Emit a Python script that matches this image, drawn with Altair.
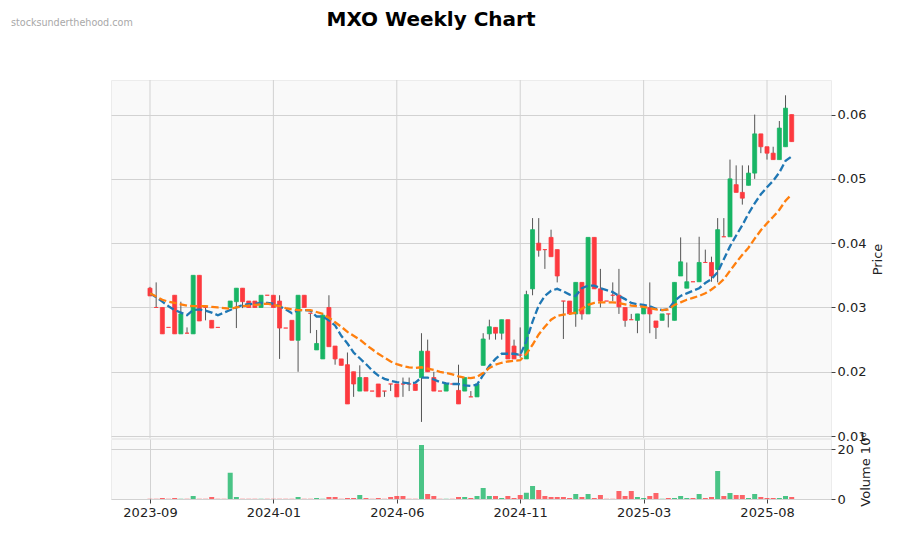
import altair as alt
import pandas as pd

TITLE = "MXO Weekly Chart"
WATERMARK = "stocksunderthehood.com"

opens = [0.0330, 0.0300, 0.0300, 0.0269, 0.0319, 0.0259, 0.0260, 0.0259, 0.0350, 0.0300,
         0.0280, 0.0269, 0.0299, 0.0300, 0.0309, 0.0330, 0.0310, 0.0310, 0.0300, 0.0319,
         0.0319, 0.0310, 0.0268, 0.0280, 0.0249, 0.0319, 0.0291, 0.0234, 0.0220, 0.0300,
         0.0240, 0.0220, 0.0211, 0.0200, 0.0170, 0.0191, 0.0170, 0.0181, 0.0170, 0.0181,
         0.0181, 0.0181, 0.0181, 0.0181, 0.0191, 0.0232, 0.0191, 0.0170, 0.0170, 0.0181,
         0.0171, 0.0170, 0.0161, 0.0161, 0.0210, 0.0259, 0.0269, 0.0260, 0.0281, 0.0240,
         0.0226, 0.0220, 0.0329, 0.0400, 0.0390, 0.0409, 0.0390, 0.0310, 0.0310, 0.0290,
         0.0339, 0.0290, 0.0409, 0.0329, 0.0310, 0.0319, 0.0319, 0.0300, 0.0281, 0.0280,
         0.0290, 0.0300, 0.0279, 0.0280, 0.0290, 0.0280, 0.0349, 0.0330, 0.0340, 0.0340,
         0.0370, 0.0370, 0.0359, 0.0410, 0.0410, 0.0491, 0.0479, 0.0490, 0.0509, 0.0570,
         0.0550, 0.0540, 0.0530, 0.0550, 0.0600]
highs = [0.0332, 0.0339, 0.0300, 0.0269, 0.0319, 0.0309, 0.0269, 0.0350, 0.0350, 0.0301,
         0.0280, 0.0269, 0.0299, 0.0310, 0.0330, 0.0330, 0.0310, 0.0310, 0.0319, 0.0319,
         0.0319, 0.0319, 0.0268, 0.0280, 0.0319, 0.0319, 0.0291, 0.0265, 0.0291, 0.0319,
         0.0240, 0.0220, 0.0230, 0.0200, 0.0210, 0.0191, 0.0170, 0.0181, 0.0170, 0.0181,
         0.0181, 0.0191, 0.0191, 0.0181, 0.0260, 0.0250, 0.0200, 0.0170, 0.0181, 0.0181,
         0.0211, 0.0191, 0.0170, 0.0181, 0.0260, 0.0281, 0.0269, 0.0281, 0.0281, 0.0250,
         0.0269, 0.0326, 0.0439, 0.0439, 0.0390, 0.0421, 0.0390, 0.0310, 0.0310, 0.0339,
         0.0339, 0.0409, 0.0409, 0.0360, 0.0310, 0.0339, 0.0360, 0.0300, 0.0290, 0.0290,
         0.0300, 0.0339, 0.0279, 0.0290, 0.0290, 0.0339, 0.0409, 0.0370, 0.0340, 0.0410,
         0.0390, 0.0379, 0.0439, 0.0439, 0.0530, 0.0521, 0.0521, 0.0521, 0.0600, 0.0570,
         0.0550, 0.0550, 0.0590, 0.0630, 0.0600]
lows = [0.0318, 0.0300, 0.0259, 0.0269, 0.0259, 0.0259, 0.0260, 0.0259, 0.0279, 0.0280,
        0.0268, 0.0269, 0.0299, 0.0300, 0.0268, 0.0299, 0.0300, 0.0300, 0.0300, 0.0319,
        0.0300, 0.0220, 0.0268, 0.0249, 0.0200, 0.0300, 0.0260, 0.0234, 0.0220, 0.0239,
        0.0211, 0.0210, 0.0150, 0.0161, 0.0170, 0.0170, 0.0170, 0.0161, 0.0161, 0.0170,
        0.0161, 0.0161, 0.0170, 0.0171, 0.0122, 0.0200, 0.0170, 0.0170, 0.0170, 0.0181,
        0.0150, 0.0170, 0.0161, 0.0161, 0.0210, 0.0250, 0.0250, 0.0250, 0.0220, 0.0220,
        0.0222, 0.0220, 0.0319, 0.0379, 0.0360, 0.0379, 0.0339, 0.0251, 0.0290, 0.0270,
        0.0281, 0.0290, 0.0329, 0.0300, 0.0310, 0.0310, 0.0290, 0.0270, 0.0281, 0.0260,
        0.0290, 0.0260, 0.0251, 0.0280, 0.0269, 0.0280, 0.0349, 0.0330, 0.0340, 0.0340,
        0.0370, 0.0340, 0.0339, 0.0410, 0.0410, 0.0479, 0.0460, 0.0490, 0.0500, 0.0540,
        0.0530, 0.0530, 0.0530, 0.0550, 0.0558]
closes = [0.0318, 0.0300, 0.0259, 0.0269, 0.0259, 0.0290, 0.0260, 0.0350, 0.0279, 0.0300,
          0.0268, 0.0269, 0.0299, 0.0310, 0.0330, 0.0309, 0.0300, 0.0300, 0.0319, 0.0319,
          0.0300, 0.0268, 0.0268, 0.0249, 0.0319, 0.0300, 0.0291, 0.0244, 0.0288, 0.0239,
          0.0220, 0.0210, 0.0150, 0.0181, 0.0191, 0.0170, 0.0170, 0.0161, 0.0170, 0.0181,
          0.0161, 0.0181, 0.0181, 0.0171, 0.0232, 0.0200, 0.0170, 0.0170, 0.0181, 0.0181,
          0.0150, 0.0191, 0.0161, 0.0181, 0.0251, 0.0270, 0.0260, 0.0281, 0.0220, 0.0220,
          0.0226, 0.0320, 0.0421, 0.0389, 0.0390, 0.0379, 0.0349, 0.0310, 0.0290, 0.0339,
          0.0290, 0.0409, 0.0329, 0.0310, 0.0310, 0.0319, 0.0301, 0.0280, 0.0281, 0.0290,
          0.0300, 0.0290, 0.0269, 0.0290, 0.0290, 0.0339, 0.0371, 0.0340, 0.0340, 0.0370,
          0.0370, 0.0349, 0.0421, 0.0410, 0.0500, 0.0479, 0.0470, 0.0509, 0.0570, 0.0550,
          0.0540, 0.0530, 0.0579, 0.0610, 0.0558]
# weekly volume, millions of shares
volumes = [0.1, 0.1, 0.4, 0.1, 0.4, 0.1, 0.1, 1.2, 0.1, 0.1,
           0.8, 0.1, 0.1, 10.5, 0.8, 0.1, 0.1, 0.1, 0.1, 0.1,
           0.1, 0.1, 0.1, 0.1, 0.8, 0.1, 0.1, 0.4, 0.1, 0.8,
           0.8, 0.1, 0.4, 0.4, 1.6, 0.4, 0.1, 0.4, 0.1, 0.8,
           1.2, 1.2, 0.1, 0.1, 21.6, 2.0, 1.2, 0.1, 0.1, 0.1,
           0.8, 0.8, 0.4, 1.2, 4.4, 1.2, 1.2, 0.4, 1.2, 0.4,
           1.6, 2.5, 5.2, 3.6, 1.2, 0.8, 0.8, 0.8, 0.4, 2.0,
           0.8, 2.0, 0.4, 1.6, 0.1, 0.1, 3.2, 1.2, 3.2, 0.8,
           0.4, 1.2, 2.4, 0.1, 0.4, 0.4, 1.2, 0.4, 0.4, 2.0,
           0.4, 0.8, 11.2, 1.2, 2.4, 1.6, 1.6, 0.4, 2.0, 0.8,
           0.4, 0.4, 0.4, 1.2, 0.8]

ma_fast = [0.0322, 0.0316, 0.0309, 0.0302, 0.0296, 0.0292, 0.0288, 0.0296, 0.0297, 0.0295,
           0.0292, 0.0288, 0.0292, 0.0296, 0.0300, 0.0304, 0.0305, 0.0306, 0.0307, 0.0307,
           0.0306, 0.0302, 0.0297, 0.0291, 0.0296, 0.0296, 0.0295, 0.0286, 0.0286, 0.0280,
           0.0272, 0.0256, 0.0244, 0.0230, 0.0221, 0.0212, 0.0202, 0.0194, 0.0189, 0.0186,
           0.0184, 0.0183, 0.0182, 0.0183, 0.0191, 0.0191, 0.0188, 0.0184, 0.0182, 0.0181,
           0.0181, 0.0179, 0.0178, 0.0180, 0.0195, 0.0209, 0.0220, 0.0228, 0.0228, 0.0228,
           0.0226, 0.0248, 0.0278, 0.0303, 0.0318, 0.0326, 0.0329, 0.0325, 0.0320, 0.0318,
           0.0330, 0.0334, 0.0334, 0.0330, 0.0327, 0.0324, 0.0318, 0.0313, 0.0307, 0.0305,
           0.0304, 0.0302, 0.0298, 0.0296, 0.0297, 0.0310, 0.0318, 0.0322, 0.0326, 0.0330,
           0.0338, 0.0344, 0.0355, 0.0375, 0.0395, 0.0412, 0.0428, 0.0446, 0.0462, 0.0476,
           0.0487, 0.0497, 0.0510, 0.0528, 0.0535]
ma_slow = [0.0322, 0.0317, 0.0312, 0.0309, 0.0307, 0.0305, 0.0303, 0.0302, 0.0302, 0.0302,
           0.0301, 0.0300, 0.0299, 0.0298, 0.0300, 0.0302, 0.0303, 0.0304, 0.0305, 0.0306,
           0.0304, 0.0302, 0.0299, 0.0297, 0.0296, 0.0296, 0.0296, 0.0293, 0.0290, 0.0284,
           0.0277, 0.0270, 0.0262, 0.0256, 0.0250, 0.0242, 0.0235, 0.0228, 0.0222, 0.0216,
           0.0212, 0.0209, 0.0207, 0.0206, 0.0207, 0.0205, 0.0203, 0.0200, 0.0198, 0.0196,
           0.0193, 0.0191, 0.0190, 0.0192, 0.0198, 0.0206, 0.0211, 0.0214, 0.0216, 0.0217,
           0.0218, 0.0228, 0.0242, 0.0258, 0.0270, 0.0281, 0.0287, 0.0289, 0.0290, 0.0292,
           0.0298, 0.0304, 0.0307, 0.0308, 0.0308, 0.0308, 0.0307, 0.0305, 0.0303, 0.0302,
           0.0301, 0.0299, 0.0297, 0.0296, 0.0297, 0.0304, 0.0308, 0.0312, 0.0315, 0.0318,
           0.0322, 0.0328, 0.0335, 0.0344, 0.0357, 0.0370, 0.0382, 0.0393, 0.0407, 0.0420,
           0.0431, 0.0441, 0.0452, 0.0466, 0.0476]

tick_idx = [0, 20, 40, 60, 80, 100]
tick_labels = ["2023-09", "2024-01", "2024-06", "2024-11", "2025-03", "2025-08"]
price_ticks = [0.01, 0.02, 0.03, 0.04, 0.05, 0.06]
volume_ticks = [0, 20]

UP = "#18b565"
DOWN = "#fd3a3f"
FONT = "DejaVu Sans"
GRID = "#d2d2d2"

n = len(closes)
df = pd.DataFrame({
    "i": list(range(n)), "open": opens, "high": highs, "low": lows, "close": closes,
    "vol": volumes, "fast": ma_fast, "slow": ma_slow,
})
df["dir"] = ["up" if c > o else "down" for o, c in zip(opens, closes)]
ticks_df = pd.DataFrame({"i": tick_idx})

xdom = [-6.32, 110.37]
label_expr = " : ".join(f"datum.value == {i} ? '{l}'" for i, l in zip(tick_idx, tick_labels)) + " : ''"

color_scale = alt.Scale(domain=["up", "down"], range=[UP, DOWN])
x_scale = alt.Scale(domain=xdom, nice=False, zero=False, padding=0)


def xp():
    return alt.X("i:Q", scale=x_scale, axis=None)


y_scale = alt.Scale(domain=[0.00970, 0.06538], nice=False, zero=False, padding=0)
y_axis = alt.Axis(orient="right", values=price_ticks, format=".2f", title="Price",
                  grid=True, gridColor=GRID, domain=False, tickSize=4,
                  titlePadding=6, titleAngle=270, titleBaseline="top")

base = alt.Chart(df)
vgrid = alt.Chart(ticks_df).mark_rule(color=GRID, strokeWidth=1).encode(x=xp())
wicks = base.mark_rule(color="#555555", strokeWidth=1).encode(
    x=xp(), y=alt.Y("low:Q", scale=y_scale, axis=y_axis), y2="high:Q")
bodies = base.mark_bar(size=4, strokeWidth=0.8).encode(
    x=xp(), y=alt.Y("open:Q", scale=y_scale, axis=y_axis), y2="close:Q",
    fill=alt.Fill("dir:N", scale=color_scale, legend=None),
    stroke=alt.Stroke("dir:N", scale=color_scale, legend=None))
fast = base.mark_line(color="#1f77b4", strokeWidth=2.3, strokeDash=[7.4, 3.2]).encode(
    x=xp(), y=alt.Y("fast:Q", scale=y_scale, axis=y_axis))
slow = base.mark_line(color="#ff7f0e", strokeWidth=2.3, strokeDash=[7.4, 3.2]).encode(
    x=xp(), y=alt.Y("slow:Q", scale=y_scale, axis=y_axis))

title_mark = alt.Chart(pd.DataFrame({"t": [TITLE]})).mark_text(
    font=FONT, fontSize=20, fontWeight="bold", align="center", baseline="middle",
    color="#000000").encode(text="t:N", x=alt.value(320), y=alt.value(-60))
wm_mark = alt.Chart(pd.DataFrame({"t": [WATERMARK]})).mark_text(
    font=FONT, fontSize=9.6, align="left", baseline="middle",
    color="#a8a8a8").encode(text="t:N", x=alt.value(-100), y=alt.value(-57))

price = alt.layer(vgrid, wicks, bodies, fast, slow, title_mark, wm_mark).properties(
    width=720, height=358)

x_vol = alt.X("i:Q", scale=x_scale,
              axis=alt.Axis(values=tick_idx, labelExpr=label_expr, title=None, grid=True,
                            gridColor=GRID, domain=False, tickSize=4, labelPadding=3))
vol = alt.Chart(df).mark_bar(size=5, opacity=0.78).encode(
    x=x_vol,
    y=alt.Y("vol:Q", scale=alt.Scale(domain=[0, 24], nice=False, padding=0),
            axis=alt.Axis(orient="right", values=volume_ticks, title="Volume  10⁶",
                          grid=True, gridColor=GRID, domain=False, tickSize=4,
                          titlePadding=6, titleAngle=270, titleBaseline="top")),
    color=alt.Color("dir:N", scale=color_scale, legend=None),
).properties(width=720, height=60)

chart = alt.vconcat(price, vol, spacing=1, bounds="flush").properties(
    padding={"left": 2, "top": 1, "right": 0, "bottom": 0}
).configure(font=FONT).configure_view(
    fill="#f9f9f9", stroke="#ececec"
).configure_axis(
    labelFont=FONT, titleFont=FONT, labelFontSize=13, titleFontSize=13,
    labelColor="#222222", titleColor="#222222", tickColor="#444444",
    titleFontWeight="normal", gridWidth=1
)

chart.save("out.html", embed_options={"renderer": "svg", "actions": False})
